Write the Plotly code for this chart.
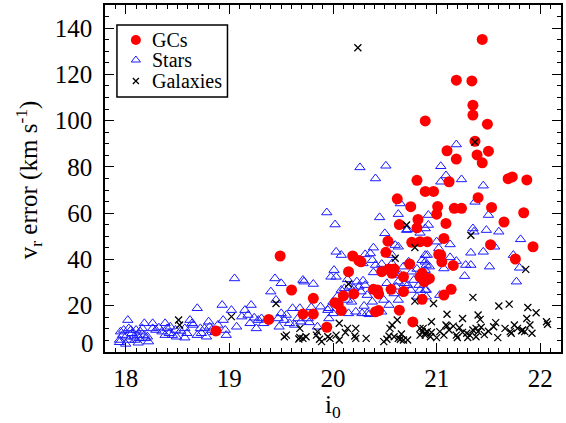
import plotly.graph_objects as go

# ---- data ----
gc_x = [21.44,21.19,21.34,21.35,21.35,20.89,21.49,21.37,21.10,21.50,21.19,21.39,21.44,21.69,21.73,21.87,
        20.81,21.12,20.89,20.97,21.40,20.62,20.75,21.01,21.17,21.24,21.53,21.00,21.84,20.82,21.09,21.65,
        20.64,20.81,21.07,20.53,20.76,20.84,20.91,21.52,21.93,19.49,20.51,21.02,21.04,20.19,20.25,20.27,
        21.05,21.76,20.74,21.16,20.15,20.47,20.54,20.59,20.57,20.68,20.86,20.84,20.93,20.88,19.60,20.39,
        20.43,20.44,20.56,20.68,20.20,20.10,19.81,21.07,21.14,20.86,20.02,20.05,20.08,19.38,19.71,19.81,
        20.41,20.44,20.64,20.77,19.94,18.87]
gc_y = [135.1,117.5,117.2,106.7,102.4,99.9,98.5,91.1,87.0,86.8,83.4,85.2,81.8,74.9,75.7,74.4,
        74.2,73.6,69.4,69.4,66.7,66.2,62.8,62.9,62.1,62.1,62.5,59.6,60.2,57.3,55.6,56.2,
        55.1,53.7,49.1,47.9,47.4,47.7,47.7,46.4,45.5,41.5,43.1,42.2,41.9,41.5,39.5,39.0,
        39.0,40.2,38.0,37.4,34.7,34.7,35.9,35.9,34.0,32.5,34.0,32.5,31.8,30.4,26.8,27.1,
        26.8,25.1,27.1,26.1,25.1,24.3,23.2,24.6,27.1,22.8,21.3,20.6,17.9,14.1,16.4,16.4,
        17.4,17.9,18.1,13.0,10.7,9.1]

star_x = [17.94,17.97,17.98,17.95,18.02,18.03,18.00,18.03,18.06,18.08,18.10,18.11,18.13,18.14,18.18,18.19,
          18.21,18.09,18.05,18.16,18.18,18.26,18.26,18.29,18.32,18.35,18.38,18.40,18.38,18.42,18.43,18.45,
          18.48,18.49,18.53,18.57,18.59,18.57,18.62,18.64,18.65,18.69,18.69,18.72,18.73,18.76,18.78,18.80,
          18.81,18.83,18.86,18.89,18.93,18.94,18.96,18.97,19.02,19.05,19.07,19.12,19.15,19.18,19.21,19.20,
          19.24,19.26,19.28,19.31,19.33,19.44,19.40,19.45,19.50,19.47,19.48,19.50,19.53,19.55,19.58,19.61,
          19.63,19.66,19.71,19.69,17.94,18.00,18.12,18.22,
          19.94,20.02,20.45,20.63,20.72,20.84,20.89,20.50,20.54,20.60,20.63,20.39,20.36,20.31,20.03,20.08,
          20.38,20.29,20.41,20.39,20.01,19.98,20.03,19.72,19.81,20.29,20.31,20.25,20.23,20.27,20.33,20.20,
          20.16,20.11,20.08,20.04,20.00,20.14,20.18,20.49,20.60,20.65,20.63,20.61,20.72,20.75,20.78,20.76,
          20.83,20.89,20.86,20.89,20.73,20.68,20.52,20.49,20.54,20.33,20.28,20.22,20.15,19.95,19.96,19.88,
          19.79,19.68,19.76,19.77,19.85,20.69,20.84,20.90,20.81,
          21.37,20.92,20.92,21.50,21.35,21.36,21.48,21.60,21.81,21.00,21.13,20.91,21.13,21.19,21.07,21.33,
          21.45,21.28,21.33,21.51,21.74,21.80,21.27,21.77,20.89,21.03,20.89,20.90,20.93,20.89,20.92,20.90,
          21.19,21.04,21.09,21.04,21.24,20.26,20.51,20.41,20.65,21.45,21.56,21.02,20.71,20.14,20.47,20.35,
          20.38,20.30,20.00,19.96,20.57,20.57,20.47,20.81,20.63,20.59]
star_y = [5.2,7.3,9.5,8.8,13.8,10.2,6.6,5.2,8.1,6.6,9.5,7.3,5.9,8.8,7.3,5.9,
          6.6,5.2,9.5,10.2,12.4,12.4,10.2,9.5,10.5,8.8,12.4,10.2,7.3,8.1,10.9,7.3,
          9.5,6.6,9.1,10.2,8.1,6.2,13.8,12.4,11.7,7.3,18.9,10.2,8.1,10.2,6.6,13.1,
          10.9,9.5,8.5,11.7,20.3,13.8,9.5,7.3,18.1,31.8,10.9,15.3,18.1,16.0,20.3,12.4,
          14.8,10.2,13.8,14.5,12.4,31.8,26.1,22.5,29.7,14.5,10.9,16.7,13.8,16.0,12.4,18.9,
          11.7,14.5,31.1,13.1,4.2,3.5,4.0,4.5,
          60.3,55.1,58.2,59.6,53.0,51.5,53.4,51.3,48.1,46.2,45.5,45.1,42.6,42.2,43.3,41.9,
          39.7,38.3,37.6,34.4,35.4,32.5,32.5,30.4,29.4,30.8,28.9,28.2,30.4,26.1,24.6,27.5,
          28.2,27.5,26.8,23.9,21.7,22.5,21.7,34.7,34.0,33.3,30.4,28.2,28.9,26.8,31.1,34.7,
          28.9,30.4,39.7,41.9,39.0,36.9,29.7,22.5,20.3,16.7,16.7,17.4,16.7,18.1,14.5,19.6,
          19.3,18.9,14.5,12.8,10.9,29.7,26.8,23.9,23.9,
          64.9,59.2,54.9,59.2,53.4,52.0,52.7,52.0,48.7,47.7,46.5,41.9,40.9,39.3,36.1,42.9,
          43.3,37.6,37.6,36.9,41.9,36.4,32.8,30.4,26.8,24.6,39.0,37.6,36.9,35.4,32.5,26.8,
          89.7,80.3,76.3,73.6,74.6,79.8,80.5,75.0,64.2,71.9,45.5,44.8,52.7,31.4,17.4,16.3,
          21.7,19.9,16.7,18.9,41.9,38.3,38.0,35.9,22.5,25.3]

gal_x = [18.51,18.52,19.02,19.45,19.53,19.55,19.68,19.67,19.71,
         20.71,20.79,20.60,20.15,20.06,20.14,20.22,20.12,20.03,19.95,19.97,19.85,19.84,19.87,19.74,19.68,
         20.21,20.32,20.49,20.52,20.54,20.57,20.55,20.62,20.59,20.66,20.65,20.72,20.79,20.84,20.84,20.86,20.89,
         21.33,21.86,21.35,20.97,21.60,21.70,21.88,21.96,21.10,21.40,21.42,21.25,20.95,21.10,21.16,21.22,
         20.87,20.91,20.95,20.89,20.94,21.00,21.03,21.07,21.19,21.20,21.29,21.32,21.35,21.38,21.40,21.43,
         21.30,21.38,21.55,21.57,21.59,21.66,21.71,21.72,21.75,21.78,21.82,21.83,21.85,21.87,21.90,21.92,
         22.06,22.07,20.24,21.37,20.22,20.63,20.68,20.06,19.89,21.09,21.12,21.46,21.50,21.25]
gal_y = [13.8,11.7,15.3,21.0,6.6,7.3,10.2,5.6,5.9,
         54.9,45.2,40.5,29.4,12.4,10.2,10.2,8.4,7.3,6.6,5.9,8.8,7.3,5.5,6.6,6.3,
         6.9,5.9,4.5,5.5,6.9,11.7,10.2,13.8,6.6,7.8,5.5,5.2,22.0,10.2,7.3,8.8,8.1,
         50.5,35.7,23.6,21.0,19.9,20.7,19.2,17.0,16.3,16.0,14.1,14.5,13.1,11.2,11.2,10.5,
         10.2,8.8,8.4,7.3,6.6,6.2,8.8,7.3,7.3,6.3,8.1,7.3,9.5,10.2,8.8,10.7,
         6.3,6.6,10.9,12.7,6.2,10.2,8.8,8.1,11.7,10.2,9.2,9.5,8.8,14.5,11.7,8.1,
         13.1,12.0,131.5,90.8,5.9,5.9,5.2,5.2,4.5,11.7,9.5,7.5,9.0,8.5]

x_tickvals = [18, 19, 20, 21, 22]
y_tickvals = [20, 40, 60, 80, 100, 120, 140]

legend_names = ["GCs", "Stars", "Galaxies"]

FONT = "Liberation Serif"
STAR_COL = "#1a1aff"

STYLES = {
    "GCs": dict(symbol="circle", size=11, color="#ff0000", line=dict(width=0)),
    "Stars": dict(symbol="triangle-up-open", size=9, color=STAR_COL, line=dict(width=1, color=STAR_COL)),
    "Galaxies": dict(symbol="x-thin-open", size=7, color="black", line=dict(width=1.3, color="black")),
}

fig = go.Figure()
fig.add_trace(go.Scatter(x=star_x, y=star_y, mode="markers", name="Stars", marker=STYLES["Stars"],
                         showlegend=False))
fig.add_trace(go.Scatter(x=gc_x, y=gc_y, mode="markers", name="GCs", marker=STYLES["GCs"],
                         showlegend=False))
fig.add_trace(go.Scatter(x=gal_x, y=gal_y, mode="markers", name="Galaxies", marker=STYLES["Galaxies"],
                         showlegend=False))

# ---- hand-drawn legend (paper-like overlay axis with range [0,1]) ----
leg_x0, leg_x1, leg_y0, leg_y1 = 0.0262, 0.2686, 0.7349, 0.9424
leg_sym_x = 0.0677
leg_txt_x = 0.0983
leg_rows = [0.899, 0.8415, 0.781]
leg_sizes = {"GCs": 10, "Stars": 8, "Galaxies": 6}
for name, ry in zip(legend_names, leg_rows):
    st = dict(STYLES[name])
    st["size"] = leg_sizes[name]
    fig.add_trace(go.Scatter(x=[leg_sym_x], y=[ry], mode="markers", marker=st, showlegend=False,
                             xaxis="x2", yaxis="y2", hoverinfo="skip"))
    fig.add_annotation(text=name, x=leg_txt_x, y=ry, xref="x2", yref="y2", xanchor="left",
                       yanchor="middle", showarrow=False,
                       font=dict(family=FONT, size=20, color="black"))
fig.add_shape(type="rect", xref="x2", yref="y2", x0=leg_x0, x1=leg_x1, y0=leg_y0, y1=leg_y1,
              line=dict(color="black", width=1.5), fillcolor="rgba(0,0,0,0)", layer="above")

axis_common = dict(showline=True, linecolor="black", linewidth=1.5, mirror="allticks",
                   ticks="inside", tickcolor="black", tickwidth=1.3, ticklen=9,
                   showgrid=False, zeroline=False,
                   tickfont=dict(family=FONT, size=25, color="black"))

fig.update_layout(
    xaxis=dict(range=[17.8, 22.2], tickvals=x_tickvals, ticktext=[str(v) for v in x_tickvals],
               minor=dict(dtick=0.1, tick0=18, ticks="inside", ticklen=4, tickwidth=1.1, tickcolor="black"),
               ticklabelstandoff=3, **axis_common),
    yaxis=dict(range=[0, 150], tickvals=y_tickvals, ticktext=[str(v) for v in y_tickvals],
               minor=dict(dtick=5, tick0=0, ticks="inside", ticklen=4, tickwidth=1.1, tickcolor="black"),
               ticklabelstandoff=6, **axis_common),
    xaxis2=dict(range=[0, 1], domain=[0, 1], overlaying="x", visible=False, fixedrange=True),
    yaxis2=dict(range=[0, 1], domain=[0, 1], overlaying="y", visible=False, fixedrange=True),
)

fig.add_annotation(text="0", x=-0.0197, xref="paper", y=3.7, yref="y", xanchor="right", yanchor="middle",
                   showarrow=False, font=dict(family=FONT, size=25, color="black"))
fig.add_annotation(text="v<sub>r</sub> error (km s<sup>-1</sup>)", x=-0.168, xref="paper", y=0.496, yref="paper",
                   textangle=-90, xanchor="center", yanchor="middle", showarrow=False,
                   font=dict(family=FONT, size=25, color="black"))
fig.add_annotation(text="i<sub>0</sub>", x=0.5, xref="paper", y=-0.156, yref="paper",
                   xanchor="center", yanchor="middle", showarrow=False,
                   font=dict(family=FONT, size=25, color="black"))

fig.update_layout(width=566, height=423, margin=dict(l=105, r=3, t=5, b=71),
                  font=dict(family=FONT, color="black"),
                  paper_bgcolor="white", plot_bgcolor="white", showlegend=False)

fig.write_html("out.html")
